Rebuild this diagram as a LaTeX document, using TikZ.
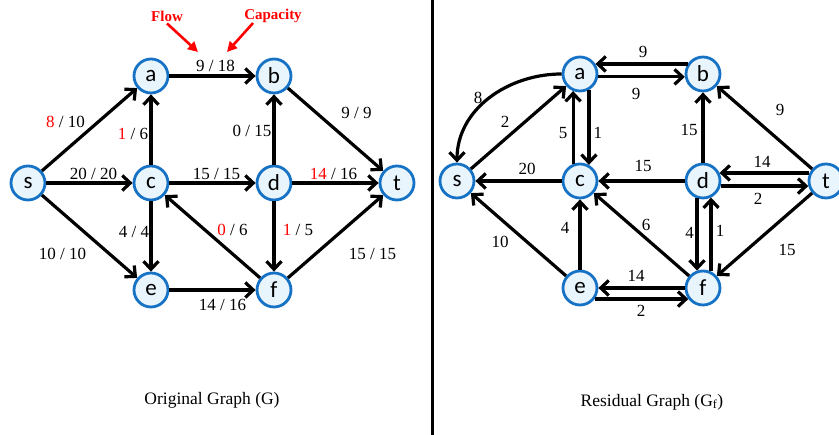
\documentclass[tikz,border=0pt]{standalone}
\usepackage{fontspec}
\setmainfont{Liberation Serif}
\newfontfamily\vtxfont{Carlito}
\usetikzlibrary{arrows.meta,positioning}
\definecolor{vtxblue}{RGB}{22,114,196}
\definecolor{vtxfill}{RGB}{233,245,253}
\newcommand{\fl}[1]{\textcolor{red}{#1}}

\begin{document}
\begin{tikzpicture}[
  on grid,
  node distance=107pt and 123pt,
  vtx/.style={circle,draw=vtxblue,fill=vtxfill,line width=2.8pt,minimum size=34pt,inner sep=0pt,font=\vtxfont\fontsize{23}{23}\selectfont},
  edge/.style={line width=3.2pt,-{Straight Barb[length=8pt,width=15pt]}},
  lbl/.style={inner sep=0pt,font=\fontsize{17}{17}\selectfont},
  note/.style={text=red,inner sep=0pt,font=\bfseries\fontsize{15}{15}\selectfont},
  pointer/.style={red,line width=2.6pt,-{Triangle[length=10pt,width=10pt]}},
  caption/.style={font=\fontsize{17.5}{17.5}\selectfont}
]
  \useasboundingbox (0,0) rectangle (839pt,435pt);

  % original graph
  \node[vtx] (ls) at (28pt,252pt) {s};
  \node[vtx,right=of ls] (lc) {c};
  \node[vtx,above=of lc] (la) {a};
  \node[vtx,below=of lc] (le) {e};
  \node[vtx,right=of lc] (ld) {d};
  \node[vtx,above=of ld] (lb) {b};
  \node[vtx,below=of ld] (lf) {f};
  \node[vtx,right=of ld] (lt) {t};

  \draw[edge] (ls) -- node[lbl,xshift=-24pt,yshift=8pt]{\fl{8} / 10} (la);
  \draw[edge] (ls) -- node[lbl,xshift=4pt,yshift=9pt]{20 / 20} (lc);
  \draw[edge] (ls) -- node[lbl,xshift=-27pt,yshift=-17pt]{10 / 10} (le);
  \draw[edge] (la) -- node[lbl,xshift=3pt,yshift=10pt]{9 / 18} (lb);
  \draw[edge] (lc) -- node[lbl,xshift=-18pt,yshift=-4pt]{\fl{1} / 6} (la);
  \draw[edge] (lc) -- node[lbl,xshift=4pt,yshift=9pt]{15 / 15} (ld);
  \draw[edge] (ld) -- node[lbl,xshift=-22pt,yshift=-1pt]{0 / 15} (lb);
  \draw[edge] (lb) -- node[lbl,xshift=21pt,yshift=17pt]{9 / 9} (lt);
  \draw[edge] (ld) -- node[lbl,xshift=-2pt,yshift=9pt]{\fl{14} / 16} (lt);
  \draw[edge] (lc) -- node[lbl,xshift=-17pt,yshift=5pt]{4 / 4} (le);
  \draw[edge] (lf) -- node[lbl,xshift=20pt,yshift=7pt]{\fl{0} / 6} (lc);
  \draw[edge] (ld) -- node[lbl,xshift=24pt,yshift=7pt]{\fl{1} / 5} (lf);
  \draw[edge] (lf) -- node[lbl,xshift=37pt,yshift=-17pt]{15 / 15} (lt);
  \draw[edge] (le) -- node[lbl,xshift=10pt,yshift=-15pt]{14 / 16} (lf);

  % flow / capacity notes
  \node[note] (flow) at (167pt,419pt) {Flow};
  \node[note] (capacity) at (273pt,419pt) {Capacity};
  \coordinate (flowtip) at (198pt,383pt);
  \coordinate (captip) at (227pt,383pt);
  \draw[pointer] ([yshift=-2pt]flow.south) -- (flowtip);
  \draw[pointer] ([xshift=9pt]capacity.south west) -- (captip);

  \node[caption] (lcap) at (212pt,35pt) {Original Graph (G)};

  % divider
  \draw[line width=3pt] (432pt,0pt) -- (432pt,435pt);

  % residual graph
  \node[vtx] (rs) at (457pt,254pt) {s};
  \node[vtx,right=of rs] (rc) {c};
  \node[vtx,above=of rc] (ra) {a};
  \node[vtx,below=of rc] (re) {e};
  \node[vtx,right=of rc] (rd) {d};
  \node[vtx,above=of rd] (rb) {b};
  \node[vtx,below=of rd] (rf) {f};
  \node[vtx,right=of rd] (rt) {t};

  \draw[edge] (rb.147) -- node[lbl,xshift=1.5pt,yshift=12pt]{9} (ra.33);
  \draw[edge] (ra.-9) -- node[lbl,xshift=-5.5pt,yshift=-17pt]{9} (rb.189);
  \draw[edge] (rs) -- node[lbl,xshift=-13.5pt,yshift=5.5pt]{2} (ra);
  \draw[edge] (ra.west) to[out=180,in=90] node[lbl,xshift=-11pt]{8} (rs.north);
  \draw[edge] (rc.112) -- node[lbl,xshift=-10pt,yshift=-5.5pt]{5} (ra.248);
  \draw[edge] (ra.299) -- node[lbl,xshift=9pt,yshift=-5.5pt]{1} (rc.61);
  \draw[edge] (rc) -- node[lbl,xshift=8.5pt,yshift=12pt]{20} (rs);
  \draw[edge] (rd) -- node[lbl,xshift=1.5pt,yshift=15pt]{15} (rc);
  \draw[edge] (rd) -- node[lbl,xshift=-14pt,yshift=-2.5pt]{15} (rb);
  \draw[edge] (rt) -- node[lbl,xshift=15.5pt,yshift=17.5pt]{9} (rb);
  \draw[edge] (rt.154) -- node[lbl,xshift=-2.5pt,yshift=11pt]{14} (rd.26);
  \draw[edge] (rd.-16) -- node[lbl,xshift=-6.5pt,yshift=-13pt]{2} (rt.196);
  \draw[edge] (re) -- node[lbl,xshift=-18.5pt,yshift=-7.5pt]{10} (rs);
  \draw[edge] (re) -- node[lbl,xshift=-15pt,yshift=6.5pt]{4} (rc);
  \draw[edge] (rf) -- node[lbl,xshift=4.5pt,yshift=9.5pt]{6} (rc);
  \draw[edge] (rd.251) -- node[lbl,xshift=-7.5pt,yshift=1.5pt]{4} (rf.109);
  \draw[edge] (rf.64) -- node[lbl,xshift=9pt,yshift=3.5pt]{1} (rd.296);
  \draw[edge] (rt) -- node[lbl,xshift=22.5pt,yshift=-15.5pt]{15} (rf);
  \draw[edge] (rf) -- node[lbl,xshift=-5.5pt,yshift=12pt]{14} (re);
  \draw[edge] (re.-37) -- node[lbl,xshift=-0.5pt,yshift=-12pt]{2} (rf.217);

  \node[caption] (rcap) at (652pt,33pt) {Residual Graph (G\textsubscript{f})};
\end{tikzpicture}
\end{document}
